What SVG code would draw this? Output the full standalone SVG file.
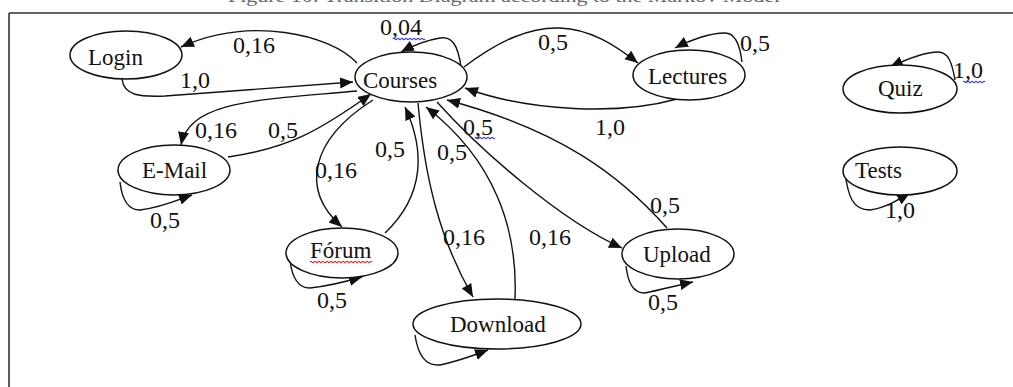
<svg xmlns="http://www.w3.org/2000/svg" width="1013" height="387" viewBox="0 0 1013 387">
<style>
.node ellipse{fill:#fff;stroke:#111;stroke-width:1.5}
.node text{font-family:"Liberation Serif","Times New Roman",serif;font-size:23px;fill:#111}
.edge{fill:none;stroke:#111;stroke-width:1.4}
.lbl{font-family:"Liberation Serif","Times New Roman",serif;font-size:24px;fill:#111}
.frame{stroke:#333;stroke-width:1.6;fill:none}
.wavy{fill:none;stroke-width:1.2}
</style>
<defs>
<marker id="ah" markerUnits="userSpaceOnUse" markerWidth="14" markerHeight="12" refX="13" refY="5.5" orient="auto">
<path d="M0,0 L13,5.5 L0,11 z" fill="#111"/>
</marker>
</defs>
<rect width="1013" height="387" fill="#fff"/>
<text x="228" y="2" textLength="552" lengthAdjust="spacingAndGlyphs" style="font-family:'Liberation Serif',serif;font-size:16px;fill:#666">Figure 10: Transition Diagram according to the Markov Model</text>
<path class="frame" d="M9,13 H1013 M9,13 V387"/>

<g id="connectors">
<path class="edge" marker-end="url(#ah)" d="M357,63 C330,34 250,16 181,47"/>
<path class="edge" marker-end="url(#ah)" d="M122,79 C124,96 140,97 165,96 L353,82"/>
<path class="edge" marker-end="url(#ah)" d="M461,67 C458,45 452,36 440,38 C428,40 412,46 401,52"/>
<path class="edge" marker-end="url(#ah)" d="M357,91 C260,100 190,100 181,145"/>
<path class="edge" marker-end="url(#ah)" d="M228,157 C290,148 320,130 371,94"/>
<path class="edge" marker-end="url(#ah)" d="M373,100 C310,140 300,190 342,227"/>
<path class="edge" marker-end="url(#ah)" d="M385,233 C425,195 425,150 405,107"/>
<path class="edge" marker-end="url(#ah)" d="M418,103 C425,180 440,240 473,297"/>
<path class="edge" marker-end="url(#ah)" d="M515,299 C518,230 495,160 426,107"/>
<path class="edge" marker-end="url(#ah)" d="M437,102 C480,150 560,220 622,248"/>
<path class="edge" marker-end="url(#ah)" d="M667,228 C620,175 560,130 447,100"/>
<path class="edge" marker-end="url(#ah)" d="M677,99 C620,115 530,112 465,88"/>
<path class="edge" marker-end="url(#ah)" d="M464,67 C500,40 530,27 560,28 C590,29 615,45 638,63"/>
<path class="edge" marker-end="url(#ah)" d="M742,62 C740,45 735,33 725,33 C710,33 690,40 675,48"/>
<path class="edge" marker-end="url(#ah)" d="M955,80 C952,62 948,52 938,52 C925,52 905,60 890,67"/>
<path class="edge" marker-end="url(#ah)" d="M845,173 C848,195 852,210 870,210 C885,208 898,200 910,193"/>
<path class="edge" marker-end="url(#ah)" d="M120,182 C122,200 128,210 140,210 C160,208 178,200 192,195"/>
<path class="edge" marker-end="url(#ah)" d="M290,260 C292,278 298,288 310,288 C330,286 348,281 362,277"/>
<path class="edge" marker-end="url(#ah)" d="M415,335 C418,355 425,366 440,365 C455,362 472,356 488,350"/>
<path class="edge" marker-end="url(#ah)" d="M626,266 C628,283 633,293 645,293 C660,290 678,285 693,282"/>
<text class="lbl" x="380" y="35">0,04</text>
<text class="lbl" x="233" y="53">0,16</text>
<text class="lbl" x="180" y="88">1,0</text>
<text class="lbl" x="195" y="138">0,16</text>
<text class="lbl" x="268" y="138">0,5</text>
<text class="lbl" x="150" y="228">0,5</text>
<text class="lbl" x="315" y="178">0,16</text>
<text class="lbl" x="375" y="157">0,5</text>
<text class="lbl" x="317" y="308">0,5</text>
<text class="lbl" x="437" y="160">0,5</text>
<text class="lbl" x="463" y="135">0,5</text>
<text class="lbl" x="443" y="245">0,16</text>
<text class="lbl" x="529" y="245">0,16</text>
<text class="lbl" x="650" y="213">0,5</text>
<text class="lbl" x="648" y="310">0,5</text>
<text class="lbl" x="538" y="50">0,5</text>
<text class="lbl" x="740" y="51">0,5</text>
<text class="lbl" x="595" y="135">1,0</text>
<text class="lbl" x="953" y="78">1,0</text>
<text class="lbl" x="885" y="218">1,0</text>
<path class="wavy" stroke="#33f" d="M393,39 q1,-1.5 2,0 t2,0 t2,0 t2,0 t2,0 t2,0 t2,0 t2,0 t2,0 t2,0 t2,0 t2,0 t2,0 t2,0 t2,0 t2,0"/>
<path class="wavy" stroke="#33f" d="M475,138 q1,-1.5 2,0 t2,0 t2,0 t2,0 t2,0 t2,0 t2,0 t2,0 t2,0 t2,0"/>
<path class="wavy" stroke="#33f" d="M963,82 q1,-1.5 2,0 t2,0 t2,0 t2,0 t2,0 t2,0 t2,0 t2,0 t2,0 t2,0 t2,0"/>
</g>

<g id="node-login" class="node"><ellipse cx="126" cy="55" rx="56" ry="24"/><text x="88" y="65">Login</text></g>
<g id="node-courses" class="node"><ellipse cx="411" cy="77" rx="56" ry="25"/><text x="363" y="88">Courses</text></g>
<g id="node-lectures" class="node"><ellipse cx="689" cy="75" rx="56" ry="25"/><text x="648" y="84">Lectures</text></g>
<g id="node-quiz" class="node"><ellipse cx="900" cy="89" rx="57" ry="24"/><text x="878" y="96">Quiz</text></g>
<g id="node-tests" class="node"><ellipse cx="900" cy="171" rx="57" ry="24"/><text x="855" y="178">Tests</text></g>
<g id="node-email" class="node"><ellipse cx="174" cy="170" rx="56" ry="25"/><text x="142" y="178">E-Mail</text></g>
<g id="node-forum" class="node"><ellipse cx="342" cy="253" rx="56" ry="25"/><text x="310" y="258">Fórum</text><path class="wavy" stroke="#e22" d="M310,262 q1,-1.5 2,0 t2,0 t2,0 t2,0 t2,0 t2,0 t2,0 t2,0 t2,0 t2,0 t2,0 t2,0 t2,0 t2,0 t2,0 t2,0 t2,0 t2,0 t2,0 t2,0 t2,0 t2,0 t2,0 t2,0 t2,0 t2,0 t2,0 t2,0 t2,0 t2,0 t2,0"/></g>
<g id="node-download" class="node"><ellipse cx="497" cy="324" rx="84" ry="25"/><text x="450" y="332">Download</text></g>
<g id="node-upload" class="node"><ellipse cx="678" cy="254" rx="56" ry="25"/><text x="643" y="262">Upload</text></g>
</svg>
